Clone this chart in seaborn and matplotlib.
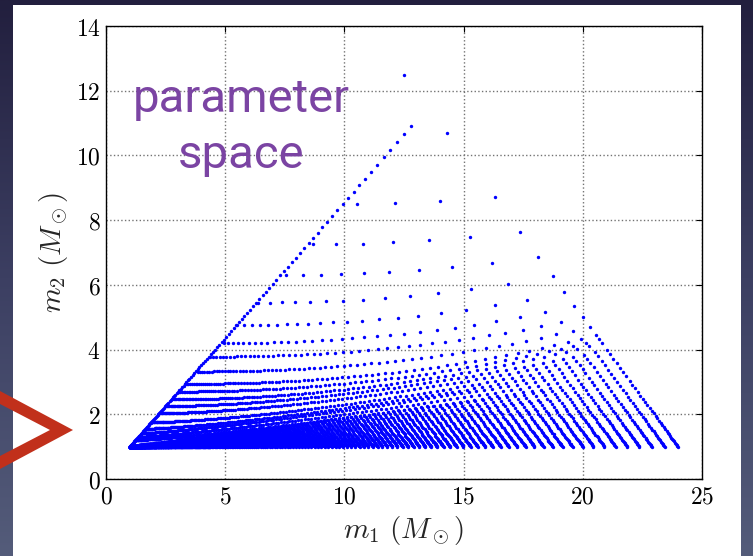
import matplotlib
matplotlib.use('Agg')
import matplotlib.pyplot as plt
from matplotlib.patches import Polygon, Rectangle
from matplotlib.colors import LinearSegmentedColormap
from matplotlib.ticker import FuncFormatter
import seaborn as sns
import numpy as np
import pandas as pd

# Template bank. Each row of templates starts on the upper
# edge of the bank (m2 given there) and ends on the M = m1 + m2 = 25 line.
# Along a row, templates sit every `gap` in total mass at M = 25, the gap
# narrowing as (M / 25) ** power towards low mass.
M_TOP = 25.0

ray_end_m2 = [1.00, 1.03, 1.06, 1.09, 1.12, 1.16, 1.20, 1.24, 1.28, 1.33, 1.38,
              1.43, 1.48, 1.54, 1.60, 1.66, 1.73, 1.80, 1.87, 1.95, 2.03, 2.11,
              2.20, 2.29, 2.38, 2.48, 2.58, 2.69, 2.80, 2.92, 3.04]
ray_gap = 0.56
ray_power = 1.5

arc_start_m2 = [1.20, 1.30, 1.41, 1.55, 1.75, 2.03, 2.25, 2.46, 2.70, 2.94,
                3.32, 3.78, 4.20, 4.76, 5.45, 6.30, 7.25, 8.50, 10.60]
arc_end_m2 = [3.17, 3.30, 3.44, 3.58, 3.72, 3.86, 3.99, 4.20, 4.32, 4.45,
              4.71, 5.00, 5.36, 5.77, 6.26, 6.87, 7.64, 8.70, 10.70]
arc_gap = [0.56, 0.56, 0.56, 0.56, 0.56, 0.56, 0.56, 0.62, 0.66, 0.72,
           0.85, 1.05, 1.40, 1.80, 2.10, 2.15, 2.25, 2.40, 2.50]
arc_power = [1.5, 1.5, 1.5, 1.5, 1.5, 1.5, 1.5, 1.6, 1.6, 1.7,
             1.8, 1.9, 2.0, 2.1, 2.1, 2.1, 2.1, 2.1, 2.1]
arc_bend = [1.2, 1.2, 1.2, 1.3, 1.4, 1.5, 1.6, 1.8, 1.9, 2.0,
            2.0, 2.0, 2.0, 2.0, 2.0, 2.0, 2.0, 2.0, 2.0]

# upper edge of the bank runs from (1, 1) to this point
edge_top = (12.8, 10.9)
edge_gap = 0.55
edge_power = 1.2

# single equal-mass template at the top
lone_m1 = [12.5]
lone_m2 = [12.5]

x_ticks = [0, 5, 10, 15, 20, 25]
y_ticks = [0, 2, 4, 6, 8, 10, 12, 14]

edge_slope = (edge_top[1] - 1.0) / (edge_top[0] - 1.0)


def row_points(start_m2, end_m2, gap, power, bend, m_top=M_TOP):
    m1_s = 1.0 + (start_m2 - 1.0) / edge_slope
    m_s = m1_s + start_m2
    pts = []
    m = m_top
    while m >= m_s - 1e-9:
        t = (m - m_s) / (m_top - m_s) if m_top > m_s else 1.0
        m2 = start_m2 + (end_m2 - start_m2) * t ** bend
        pts.append((m - m2, m2))
        m -= max(gap * (m / m_top) ** power, 0.01)
    return pts


pts = []
for e in ray_end_m2:
    pts += row_points(1.0, e, ray_gap, ray_power, 1.0)
for s, e, g, p, b in zip(arc_start_m2, arc_end_m2, arc_gap, arc_power, arc_bend):
    pts += row_points(s, e, g, p, b)
pts += row_points(1.0, edge_top[1], edge_gap, edge_power, 1.0, m_top=sum(edge_top))
pts += list(zip(lone_m1, lone_m2))
bank = pd.DataFrame(pts, columns=['m1', 'm2'])

sns.set_style('white')
plt.rcParams['font.family'] = ['DejaVu Sans']
plt.rcParams['mathtext.fontset'] = 'cm'

W, H = 753, 556
fig = plt.figure(figsize=(W / 100, H / 100), dpi=100)

# slide background, white panel and the red chevron
bg = fig.add_axes([0, 0, 1, 1], zorder=-10)
slide = LinearSegmentedColormap.from_list('slide', ['#221f3e', '#3c3f62', '#545c7a'])
bg.imshow(np.linspace(0, 1, 256)[:, None], aspect='auto', cmap=slide, extent=[0, 1, 0, 1])
bg.add_patch(Rectangle((13 / W, 0), (741 - 13) / W, (H - 5) / H, facecolor='white', lw=0))
chevron = [(0, 391), (73, 430), (0, 469), (0, 456), (50, 430), (0, 404)]
bg.add_patch(Polygon([(x / W, 1 - y / H) for x, y in chevron], closed=True,
                     facecolor='#c1301b', lw=0))
bg.set_xlim(0, 1); bg.set_ylim(0, 1)
bg.axis('off')

ax = fig.add_axes([106 / W, 77 / H, 596 / W, 453 / H])
sns.scatterplot(data=bank, x='m1', y='m2', s=6, color='#0000ff', linewidth=0,
                legend=False, ax=ax, zorder=3)
ax.set_xlim(0, 25); ax.set_ylim(0, 14)
ax.set_xticks(x_ticks); ax.set_yticks(y_ticks)
fmt = FuncFormatter(lambda v, p: f'${v:g}$')
ax.xaxis.set_major_formatter(fmt); ax.yaxis.set_major_formatter(fmt)
ax.tick_params(direction='in', length=4, width=0.8, top=True, right=True,
               labelsize=17, pad=4, colors='black')
ax.grid(True, linestyle=':', color='0.45', linewidth=1.0)
for sp in ax.spines.values():
    sp.set_color('black'); sp.set_linewidth(1.0)
ax.set_xlabel(r'$m_1\ (M_\odot)$', fontsize=21, labelpad=4)
ax.set_ylabel(r'$m_2\ (M_\odot)$', fontsize=21, labelpad=4)

purple = '#7b44a3'
fig.text(241 / W, 1 - 111.7 / H, 'parameter', ha='center', va='baseline', fontsize=34,
         color=purple, family=['Roboto', 'DejaVu Sans'])
fig.text(241 / W, 1 - 168 / H, 'space', ha='center', va='baseline', fontsize=34,
         color=purple, family=['Roboto', 'DejaVu Sans'])

fig.savefig('out.png', dpi=100)
plt.close(fig)
